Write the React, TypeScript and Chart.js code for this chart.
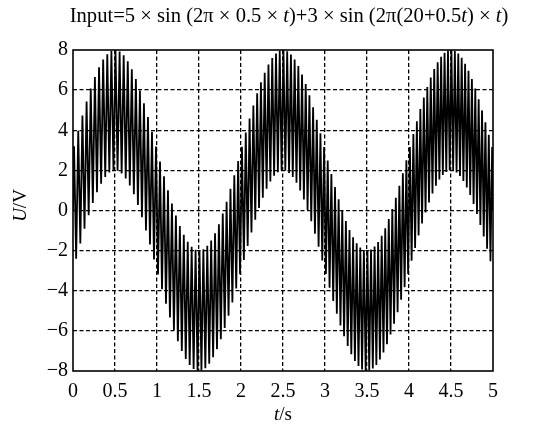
import React, { useEffect, useRef } from "react";
import { Chart, registerables } from "chart.js";

Chart.register(...registerables);

// time (s) of each plotted turning point of the signal
const timeS = [
  0, 0.0125, 0.0375, 0.0624, 0.0873, 0.1122, 0.137, 0.1618, 0.1866, 0.2114, 0.2361, 0.2608, 0.2854, 0.3101, 0.3347, 0.3592, 0.3838, 0.4083, 0.4327, 0.4572, 0.4816,
  0.5061, 0.5305, 0.5548, 0.5791, 0.6034, 0.6277, 0.6519, 0.6761, 0.7002, 0.7244, 0.7485, 0.7726, 0.7966, 0.8207, 0.8446, 0.8686, 0.8925, 0.9164, 0.9403, 0.9642,
  0.9881, 1.0119, 1.0357, 1.0594, 1.0832, 1.1069, 1.1306, 1.1542, 1.1778, 1.2014, 1.225, 1.2485, 1.272, 1.2955, 1.319, 1.3424, 1.3658, 1.3892, 1.4126, 1.4359,
  1.4593, 1.4826, 1.5058, 1.529, 1.5522, 1.5754, 1.5986, 1.6217, 1.6448, 1.668, 1.691, 1.714, 1.737, 1.76, 1.783, 1.8059, 1.8288, 1.8517, 1.8746, 1.8974,
  1.9203, 1.9431, 1.9659, 1.9887, 2.0114, 2.0341, 2.0568, 2.0794, 2.102, 2.1246, 2.1472, 2.1698, 2.1923, 2.2148, 2.2373, 2.2598, 2.2822, 2.3047, 2.327, 2.3494,
  2.3719, 2.3942, 2.4166, 2.4389, 2.4611, 2.4834, 2.5056, 2.5278, 2.55, 2.5721, 2.5943, 2.6164, 2.6385, 2.6605, 2.6826, 2.7046, 2.7266, 2.7486, 2.7705, 2.7925,
  2.8145, 2.8364, 2.8583, 2.8802, 2.902, 2.9238, 2.9456, 2.9674, 2.9891, 3.0108, 3.0325, 3.0543, 3.076, 3.0976, 3.1192, 3.1408, 3.1624, 3.184, 3.2055, 3.227,
  3.2487, 3.2702, 3.2916, 3.3131, 3.3345, 3.3559, 3.3774, 3.3987, 3.4201, 3.4414, 3.4627, 3.484, 3.5053, 3.5265, 3.5478, 3.569, 3.5902, 3.6114, 3.6325, 3.6537,
  3.6749, 3.696, 3.7171, 3.7381, 3.7592, 3.7802, 3.8013, 3.8223, 3.8432, 3.8642, 3.8851, 3.9061, 3.9269, 3.9478, 3.9687, 3.9895, 4.0104, 4.0312, 4.052, 4.0727,
  4.0936, 4.1143, 4.135, 4.1558, 4.1765, 4.1971, 4.2178, 4.2384, 4.259, 4.2796, 4.3002, 4.3208, 4.3413, 4.3619, 4.3824, 4.4029, 4.4233, 4.4438, 4.4642, 4.4846,
  4.5051, 4.5255, 4.5459, 4.5663, 4.5866, 4.6069, 4.6272, 4.6475, 4.6678, 4.688, 4.7083, 4.7285, 4.7487, 4.7689, 4.7891, 4.8092, 4.8294, 4.8495, 4.8696, 4.8897,
  4.9098, 4.9298, 4.9499, 4.9699, 4.9899, 5.0,
];

// voltage (V) at each of those turning points
const voltageV = [
  0, 3.2, -2.41, 3.97, -1.65, 4.73, -0.91, 5.43, -0.23, 6.08, 0.38, 6.65, 0.91, 7.14, 1.34, 7.52, 1.67, 7.79, 1.89, 7.95, 1.99,
  8.0, 1.98, 7.93, 1.85, 7.74, 1.6, 7.44, 1.25, 7.04, 0.81, 6.55, 0.28, 5.98, -0.33, 5.35, -0.99, 4.66, -1.7, 3.93, -2.44,
  3.19, -3.19, 2.44, -3.93, 1.71, -4.65, 1.01, -5.33, 0.35, -5.96, -0.25, -6.52, -0.77, -7.0, -1.21, -7.4, -1.56, -7.7, -1.81, -7.9,
  -1.96, -7.99, -2.0, -7.98, -1.93, -7.86, -1.76, -7.64, -1.49, -7.32, -1.13, -6.91, -0.68, -6.42, -0.15, -5.86, 0.44, -5.25, 1.08, -4.58,
  1.76, -3.89, 2.47, -3.18, 3.18, -2.47, 3.89, -1.77, 4.58, -1.09, 5.23, -0.46, 5.84, 0.12, 6.39, 0.64, 6.87, 1.09, 7.28, 1.45,
  7.6, 1.73, 7.83, 1.91, 7.96, 1.99, 8.0, 1.98, 7.94, 1.87, 7.78, 1.67, 7.53, 1.38, 7.2, 1.0, 6.78, 0.55, 6.3, 0.03,
  5.75, -0.54, 5.15, -1.16, 4.52, -1.81, 3.85, -2.49, 3.17, -3.17, 2.49, -3.85, 1.82, -4.51, 1.17, -5.14, 0.56, -5.73, -0.01, -6.27,
  -0.52, -6.75, -0.97, -7.16, -1.34, -7.5, -1.63, -7.75, -1.84, -7.92, -1.97, -7.99, -2.0, -7.98, -1.94, -7.88, -1.8, -7.7, -1.57, -7.43,
  -1.26, -7.08, -0.88, -6.67, -0.43, -6.18, 0.08, -5.65, 0.64, -5.07, 1.23, -4.45, 1.86, -3.82, 2.51, -3.16, 3.16, -2.51, 3.81, -1.87,
  4.45, -1.24, 5.06, -0.65, 5.63, -0.1, 6.16, 0.4, 6.63, 0.85, 7.05, 1.23, 7.39, 1.54, 7.66, 1.77, 7.86, 1.92, 7.97, 1.99,
  8.0, 1.98, 7.95, 1.89, 7.82, 1.72, 7.61, 1.47, 7.32, 1.15, 6.97, 0.77, 6.55, 0.32, 6.08, -0.18, 5.55, -0.72, 4.99, -1.3,
  4.4, -1.91, 3.78, -2.53, 3.16, 0,
];

const xTicks = [0, 0.5, 1, 1.5, 2, 2.5, 3, 3.5, 4, 4.5, 5];
const yTicks = [-8, -6, -4, -2, 0, 2, 4, 6, 8];

// [text, italic]
const titleParts: [string, boolean][] = [
  ["Input=5 × sin (2π × 0.5 × ", false],
  ["t", true],
  [")+3 × sin (2π(20+0.5", false],
  ["t", true],
  [") × ", false],
  ["t", true],
  [")", false],
];
const xTitleParts: [string, boolean][] = [["t", true], ["/s", false]];
const yTitleParts: [string, boolean][] = [["U", true], ["/V", false]];

const SERIF = '"Liberation Serif", "Times New Roman", serif';

function drawMixed(
  ctx: CanvasRenderingContext2D,
  parts: [string, boolean][],
  cx: number,
  y: number,
  size: number
) {
  const fontOf = (it: boolean) => `${it ? "italic " : ""}${size}px ${SERIF}`;
  let total = 0;
  for (const [s, it] of parts) {
    ctx.font = fontOf(it);
    total += ctx.measureText(s).width;
  }
  let x = cx - total / 2;
  ctx.textAlign = "left";
  ctx.textBaseline = "alphabetic";
  for (const [s, it] of parts) {
    ctx.font = fontOf(it);
    ctx.fillText(s, x, y);
    x += ctx.measureText(s).width;
  }
}

function fmtY(v: number) {
  return v < 0 ? "\u2212" + Math.abs(v) : String(v);
}

export default function App() {
  const ref = useRef<HTMLCanvasElement>(null);

  useEffect(() => {
    if (!ref.current) return;
    const points = timeS.map((t, i) => ({ x: t, y: voltageV[i] }));

    const decor = {
      id: "decor",
      afterDraw(chart: any) {
        const ctx: CanvasRenderingContext2D = chart.ctx;
        const a = chart.chartArea;
        ctx.save();
        ctx.setLineDash([]);
        ctx.strokeStyle = "#000";
        ctx.lineWidth = 1.6;
        ctx.strokeRect(a.left, a.top, a.right - a.left, a.bottom - a.top);
        ctx.fillStyle = "#000";
        drawMixed(ctx, titleParts, 289, 22, 20.6);
        drawMixed(ctx, xTitleParts, (a.left + a.right) / 2, 420, 19);
        ctx.translate(26, (a.top + a.bottom) / 2 - 5);
        ctx.rotate(-Math.PI / 2);
        drawMixed(ctx, yTitleParts, 0, 0, 19);
        ctx.restore();
      },
    };

    const edgeColor = (min: number, max: number) => (c: any) => {
      const v = c.tick ? c.tick.value : NaN;
      return v === min || v === max ? "rgba(0,0,0,0)" : "#000";
    };

    const chart = new Chart(ref.current, {
      type: "line",
      data: {
        datasets: [
          {
            data: points,
            borderColor: "#000",
            borderWidth: 1.8,
            pointRadius: 0,
            tension: 0,
            fill: false,
          },
        ],
      },
      options: {
        animation: false,
        responsive: false,
        events: [],
        parsing: false,
        layout: { padding: { top: 50, right: 43, left: 0, bottom: 0 } },
        plugins: {
          legend: { display: false },
          title: { display: false },
          tooltip: { enabled: false },
        },
        scales: {
          x: {
            type: "linear",
            min: 0,
            max: 5,
            afterBuildTicks: (s: any) => {
              s.ticks = xTicks.map((v) => ({ value: v }));
            },
            afterFit: (s: any) => {
              s.height = 53;
            },
            ticks: {
              autoSkip: false,
              maxRotation: 0,
              padding: 9,
              color: "#000",
              font: { family: SERIF, size: 20 },
              callback: (v: any) => String(v),
            },
            grid: { color: edgeColor(0, 5), lineWidth: 1.3, drawTicks: false },
            border: { display: false, dash: [4, 2.5] },
          },
          y: {
            type: "linear",
            min: -8,
            max: 8,
            afterBuildTicks: (s: any) => {
              s.ticks = yTicks.map((v) => ({ value: v }));
            },
            afterFit: (s: any) => {
              s.width = 73;
            },
            ticks: {
              autoSkip: false,
              padding: 5,
              color: "#000",
              font: { family: SERIF, size: 20 },
              callback: (v: any) => fmtY(Number(v)),
            },
            grid: { color: edgeColor(-8, 8), lineWidth: 1.3, drawTicks: false },
            border: { display: false, dash: [4, 2.5] },
          },
        },
      },
      plugins: [decor],
    });
    return () => chart.destroy();
  }, []);

  return (
    <div style={{ position: "fixed", left: 0, top: 0, width: 536, height: 424, background: "#fff" }}>
      <canvas ref={ref} width={536} height={424} style={{ width: 536, height: 424 }} />
    </div>
  );
}
